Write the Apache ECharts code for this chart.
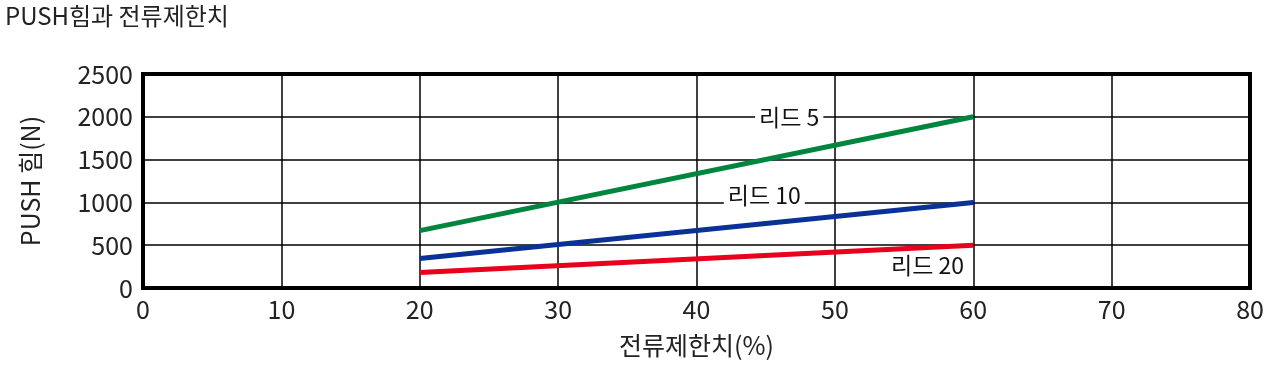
<!DOCTYPE html>
<html><head><meta charset="utf-8">
<script src="https://cdn.jsdelivr.net/npm/echarts@6/dist/echarts.min.js"></script>
<style>html,body{margin:0;padding:0;background:#fff}#c{width:1280px;height:368px}</style>
</head><body><div id="c"></div>
<script>
const xTicks = [0, 10, 20, 30, 40, 50, 60, 70, 80];
const yTicks = [0, 500, 1000, 1500, 2000, 2500];
const lead5 = [[20, 670], [60, 2000]];
const lead10 = [[20, 345], [60, 1000]];
const lead20 = [[20, 180], [60, 500]];
const labels = [
  {name: '리드 5', coord: [46.7, 2000]},
  {name: '리드 10', coord: [44.9, 1080]},
  {name: '리드 20', coord: [56.7, 270]}
];
const FONT = '"Noto Sans CJK KR","Noto Sans",sans-serif';
const chart = echarts.init(document.getElementById('c'));
function mk(name, data, color, lab) {
  return {
    type: 'line', name, data, symbol: 'none', silent: true,
    lineStyle: {color, width: 5}, z: 3,
    markPoint: {
      symbol: 'rect', symbolSize: 0, silent: true, z: 5,
      data: [{coord: lab.coord, name: lab.name}],
      label: {show: true, position: 'inside', formatter: lab.name, color: '#111',
        fontFamily: FONT, fontSize: 23, backgroundColor: '#fff', padding: [0, 4]}
    }
  };
}
chart.setOption({
  animation: false,
  title: {text: 'PUSH힘과 전류제한치', left: 0, top: -1,
    textStyle: {fontFamily: FONT, fontSize: 24, fontWeight: 'normal', color: '#222'}},
  grid: {left: 143, right: 30, top: 74, bottom: 80, show: true, borderColor: '#000', borderWidth: 4, z: 4},
  xAxis: {type: 'value', min: 0, max: 80, interval: 10,
    name: '전류제한치(%)', nameLocation: 'middle', nameGap: 45,
    nameTextStyle: {fontFamily: FONT, fontSize: 25, color: '#222'},
    axisLine: {show: false}, axisTick: {show: false},
    axisLabel: {fontFamily: FONT, fontSize: 25, color: '#222', margin: 9, formatter: v => String(v)},
    splitLine: {show: true, lineStyle: {color: '#000', width: 1.5}}},
  yAxis: {type: 'value', min: 0, max: 2500, interval: 500,
    name: 'PUSH 힘(N)', nameLocation: 'middle', nameGap: 100,
    nameTextStyle: {fontFamily: FONT, fontSize: 25, color: '#222'},
    axisLine: {show: false}, axisTick: {show: false},
    axisLabel: {fontFamily: FONT, fontSize: 25, color: '#222', margin: 10, formatter: v => String(v)},
    splitLine: {show: true, lineStyle: {color: '#000', width: 1.5}}},
  series: [
    mk('리드 5', lead5, '#00853e', labels[0]),
    mk('리드 10', lead10, '#0a3296', labels[1]),
    mk('리드 20', lead20, '#e8001c', labels[2])
  ]
});
</script></body></html>
